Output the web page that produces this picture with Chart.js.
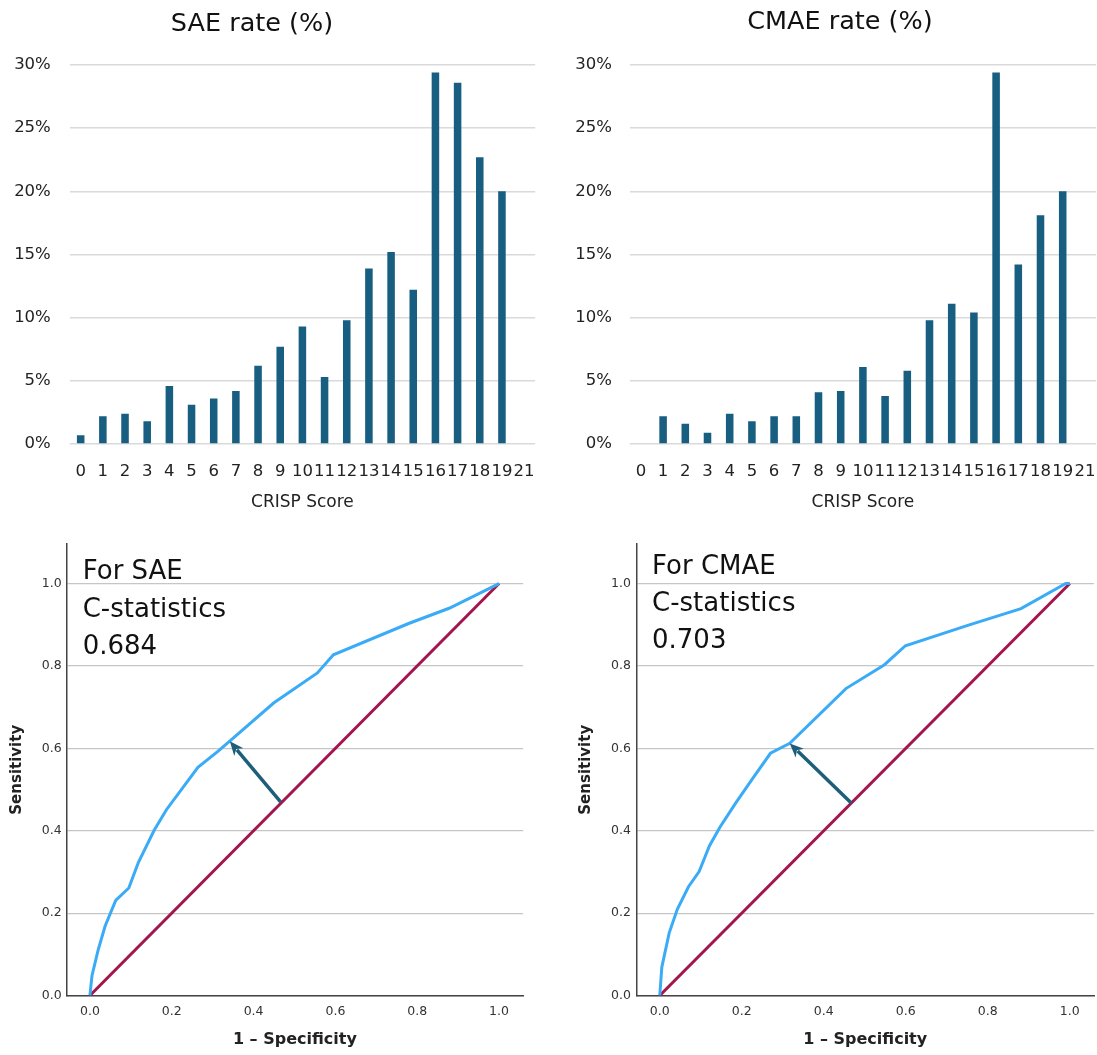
<!DOCTYPE html>
<html>
<head>
<meta charset="utf-8">
<script src="https://cdn.jsdelivr.net/npm/chart.js@4.4.1/dist/chart.umd.min.js"></script>
<style>
  body { margin: 0; background: #fff; }
  canvas { position: absolute; }
</style>
</head>
<body>
<canvas id="saeBar" width="548" height="520" style="left:0;top:0"></canvas>
<canvas id="cmaeBar" width="549" height="520" style="left:548px;top:0"></canvas>
<canvas id="saeRoc" width="548" height="535" style="left:0;top:520px"></canvas>
<canvas id="cmaeRoc" width="549" height="535" style="left:548px;top:520px"></canvas>
<script>
// CRISP score categories (there is no 20)
var scoreLabels = ["0", "1", "2", "3", "4", "5", "6", "7", "8", "9", "10",
  "11", "12", "13", "14", "15", "16", "17", "18", "19", "21"];
var saeRate = [0.7, 2.2, 2.4, 1.8, 4.6, 3.1, 3.6, 4.2, 6.2, 7.7, 9.3,
  5.3, 9.8, 13.9, 15.2, 12.2, 29.4, 28.6, 22.7, 20.0, null];
var cmaeRate = [null, 2.2, 1.6, 0.9, 2.4, 1.8, 2.2, 2.2, 4.1, 4.2, 6.1,
  3.8, 5.8, 9.8, 11.1, 10.4, 29.4, 14.2, 18.1, 20.0, null];
var rateTicks = [0, 5, 10, 15, 20, 25, 30];

// ROC curves, 1 - specificity vs sensitivity
var saeRocX = [0, 0.005, 0.02, 0.037, 0.063, 0.095, 0.118, 0.157, 0.187, 0.264, 0.312,
  0.341, 0.449, 0.556, 0.595, 0.779, 0.878, 1];
var saeRocY = [0, 0.048, 0.11, 0.168, 0.231, 0.261, 0.322, 0.401, 0.451, 0.554, 0.592,
  0.617, 0.71, 0.783, 0.827, 0.903, 0.94, 1];
var cmaeRocX = [0, 0.005, 0.023, 0.043, 0.07, 0.096, 0.121, 0.147, 0.185, 0.228, 0.27,
  0.317, 0.454, 0.548, 0.599, 0.753, 0.881, 0.99, 1];
var cmaeRocY = [0, 0.069, 0.152, 0.21, 0.264, 0.301, 0.363, 0.409, 0.467, 0.529, 0.588,
  0.612, 0.745, 0.803, 0.849, 0.899, 0.939, 1, 1];
var refX = [0, 1];
var refY = [0, 1];
var rocTicks = [0, 0.2, 0.4, 0.6, 0.8, 1.0];

var FONT = '"DejaVu Sans", sans-serif';
var barColor = '#175e80';
var rocColor = '#3aabf6';
var refColor = '#a3154d';
var arrowColor = '#1d5f7a';

// free text (panel titles, C-statistics note) and the arrow
var extrasPlugin = {
  id: 'extras',
  afterDraw: function (chart, args, opts) {
    var ctx = chart.ctx;
    ctx.save();
    if (opts.arrow) {
      var a = opts.arrow, sx = chart.scales.x, sy = chart.scales.y;
      var x0 = sx.getPixelForValue(a.from[0]), y0 = sy.getPixelForValue(a.from[1]);
      var x1 = sx.getPixelForValue(a.to[0]), y1 = sy.getPixelForValue(a.to[1]);
      var ang = Math.atan2(y1 - y0, x1 - x0);
      var hl = 14, hw = 6;
      var bx = x1 - hl * Math.cos(ang), by = y1 - hl * Math.sin(ang);
      ctx.strokeStyle = arrowColor;
      ctx.fillStyle = arrowColor;
      ctx.lineWidth = 3.5;
      ctx.beginPath();
      ctx.moveTo(x0, y0);
      ctx.lineTo(bx + 3 * Math.cos(ang), by + 3 * Math.sin(ang));
      ctx.stroke();
      ctx.beginPath();
      ctx.moveTo(x1, y1);
      ctx.lineTo(bx + hw * Math.sin(ang), by - hw * Math.cos(ang));
      ctx.lineTo(bx + 4 * Math.cos(ang), by + 4 * Math.sin(ang));
      ctx.lineTo(bx - hw * Math.sin(ang), by + hw * Math.cos(ang));
      ctx.closePath();
      ctx.fill();
    }
    (opts.items || []).forEach(function (t) {
      ctx.font = t.font;
      ctx.fillStyle = '#111';
      ctx.textAlign = t.align || 'left';
      ctx.textBaseline = 'alphabetic';
      ctx.fillText(t.text, t.x, t.y);
    });
    ctx.restore();
  }
};

function barChart(id, title, values, o) {
  return new Chart(document.getElementById(id), {
    type: 'bar',
    data: {
      labels: scoreLabels,
      datasets: [{ data: values, backgroundColor: barColor, barPercentage: 0.34, categoryPercentage: 1 }]
    },
    options: {
      responsive: false,
      animation: false,
      layout: { padding: { top: 65, right: o.padRight, bottom: 0, left: 0 } },
      plugins: {
        legend: { display: false },
        tooltip: { enabled: false },
        extras: { items: [{ text: title, x: o.titleX, y: o.titleY, align: 'center', font: '25.5px ' + FONT }] }
      },
      scales: {
        x: {
          grid: { display: false },
          border: { display: false },
          ticks: { autoSkip: false, maxRotation: 0, padding: 10, color: '#222', font: { family: FONT, size: 16.5 } },
          title: { display: true, text: 'CRISP Score', color: '#222', font: { family: FONT, size: 17 }, padding: { top: 0, bottom: 7 } },
          afterFit: function (s) { s.height = 76; s.paddingLeft = 0; s.paddingRight = 0; }
        },
        y: {
          min: 0,
          max: 30,
          afterBuildTicks: function (s) { s.ticks = rateTicks.map(function (v) { return { value: v }; }); },
          grid: { color: '#dadada', lineWidth: 1.5, drawTicks: false },
          border: { display: false },
          ticks: { padding: o.yPad, color: '#222', font: { family: FONT, size: 16.5 }, callback: function (v) { return v + '%'; } },
          afterFit: function (s) { s.width = o.yWidth; }
        }
      }
    },
    plugins: [extrasPlugin]
  });
}

function rocChart(id, xs, ys, o) {
  var pts = xs.map(function (x, i) { return { x: x, y: ys[i] }; });
  var ref = refX.map(function (x, i) { return { x: x, y: refY[i] }; });
  return new Chart(document.getElementById(id), {
    type: 'scatter',
    data: {
      datasets: [
        { data: pts, showLine: true, borderColor: rocColor, borderWidth: 3, pointRadius: 0, tension: 0 },
        { data: ref, showLine: true, borderColor: refColor, borderWidth: 3, pointRadius: 0, tension: 0 }
      ]
    },
    options: {
      responsive: false,
      animation: false,
      layout: { padding: { top: 24, right: o.padRight, bottom: 0, left: 0 } },
      plugins: {
        legend: { display: false },
        tooltip: { enabled: false },
        extras: {
          arrow: o.arrow,
          items: o.note.map(function (t, i) {
            return { text: t, x: o.noteX, y: o.noteY[i], font: '26px ' + FONT };
          })
        }
      },
      scales: {
        x: {
          type: 'linear',
          min: -0.057,
          max: 1.059,
          afterBuildTicks: function (s) { s.ticks = rocTicks.map(function (v) { return { value: v }; }); },
          grid: { display: false },
          border: { display: true, color: '#444', width: 1.5 },
          ticks: { padding: 1, color: '#333', font: { family: FONT, size: 12.5 }, callback: function (v) { return v.toFixed(1); } },
          title: { display: true, text: '1 – Specificity', color: '#222', font: { family: FONT, size: 16, weight: 'bold' }, padding: { top: 0, bottom: 6 } },
          afterFit: function (s) { s.height = 59.5; s.paddingLeft = 0; s.paddingRight = 0; }
        },
        y: {
          min: 0,
          max: 1.096,
          afterBuildTicks: function (s) { s.ticks = rocTicks.map(function (v) { return { value: v }; }); },
          grid: { color: '#c6c6c6', lineWidth: 1.2, drawTicks: false },
          border: { display: true, color: '#444', width: 1.5 },
          ticks: { padding: o.yPad, color: '#333', font: { family: FONT, size: 12.5 }, callback: function (v) { return v.toFixed(1); } },
          title: { display: true, text: 'Sensitivity', color: '#222', font: { family: FONT, size: 15, weight: 'bold' }, padding: { top: o.yTitlePad, bottom: 0 } },
          afterFit: function (s) { s.width = o.yWidth; }
        }
      }
    },
    plugins: [extrasPlugin]
  });
}

barChart('saeBar', 'SAE rate (%)', saeRate, { padRight: 12.8, yWidth: 69.6, yPad: 18.8, titleX: 252, titleY: 31 });
barChart('cmaeBar', 'CMAE rate (%)', cmaeRate, { padRight: 1, yWidth: 81.8, yPad: 17.8, titleX: 292, titleY: 29 });

rocChart('saeRoc', saeRocX, saeRocY, {
  padRight: 24.8, yWidth: 66.6, yPad: 5, yTitlePad: 8.5,
  note: ['For SAE', 'C-statistics', '0.684'], noteX: 82.7, noteY: [59.3, 96.7, 134.3],
  arrow: { from: [0.466, 0.47], to: [0.342, 0.617] }
});
rocChart('cmaeRoc', cmaeRocX, cmaeRocY, {
  padRight: 3, yWidth: 88.4, yPad: 5.5, yTitlePad: 29.6,
  note: ['For CMAE', 'C-statistics', '0.703'], noteX: 104, noteY: [54, 91, 127.5],
  arrow: { from: [0.467, 0.467], to: [0.317, 0.612] }
});
</script>
</body>
</html>
